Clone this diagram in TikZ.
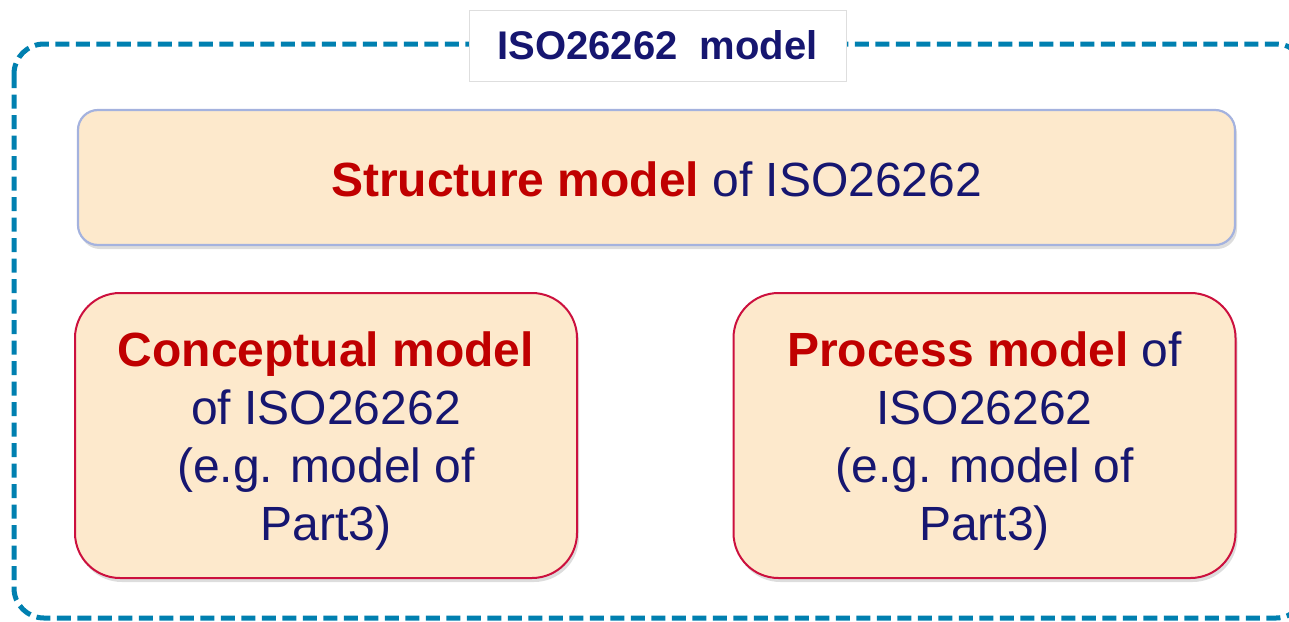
\documentclass[tikz,border=0pt]{standalone}
\usepackage{fontspec}
\setmainfont{Liberation Sans}
\usetikzlibrary{shadows}
\definecolor{frameblue}{RGB}{0,128,176}
\definecolor{boxfill}{RGB}{253,233,204}
\definecolor{keyred}{RGB}{192,0,0}
\definecolor{textnavy}{RGB}{22,22,112}
\definecolor{structedge}{RGB}{164,178,222}
\definecolor{partedge}{RGB}{204,16,62}
\definecolor{titleedge}{RGB}{222,222,222}
\tikzset{
  bigtext/.style={font=\fontsize{48}{58}\selectfont, text=textnavy, align=center, inner sep=0pt},
  boxshadow/.style={drop shadow={shadow xshift=2pt, shadow yshift=-4pt, opacity=0.22, fill=black!60}},
  structbox/.style={draw=structedge, line width=2.2pt, fill=boxfill,
    rounded corners=20pt, minimum width=1157pt, minimum height=135pt, inner sep=0pt, boxshadow},
  partbox/.style={draw=partedge, line width=2pt, fill=boxfill,
    rounded corners=45pt, minimum width=502pt, minimum height=285pt, inner sep=0pt, boxshadow},
  titlebox/.style={draw=titleedge, line width=1pt, fill=white, text=textnavy,
    font=\fontsize{40}{48}\bfseries\selectfont, minimum width=377pt, minimum height=71pt, inner sep=0pt},
  frameline/.style={draw=frameblue, line width=5pt, dash pattern=on 14pt off 6.5pt, rounded corners=30pt}
}
\newcommand{\key}[1]{\textcolor{keyred}{\bfseries #1}}
\begin{document}
\begin{tikzpicture}[x=1pt,y=-1pt]
  \useasboundingbox (0,0) rectangle (1289,621);
  \begin{scope}
    \clip (0,0) rectangle (1289,621);
    % outer dashed frame, its right side runs past the edge
    \draw[frameline] (14,44) rectangle (1306,618);
  \end{scope}
  \node[titlebox] (title) at (657.5,45.5) {ISO26262\ \ model};
  % boxes
  \node[structbox] (structure) at (656.5,177.5) {};
  \node[partbox] (conceptual) at (326,435.5) {};
  \node[partbox] (process) at (984.5,435.5) {};
  % box texts
  \node[bigtext] (structure-text) at ([yshift=-2pt]structure.center) {\key{Structure model} of ISO26262};
  \node[bigtext] (conceptual-text) at ([yshift=-6pt]conceptual.center) {\key{Conceptual model}\\of ISO26262\\(e.g. model of\\Part3)};
  \node[bigtext] (process-text) at ([yshift=-6pt]process.center) {\key{Process model} of\\ISO26262\\(e.g. model of\\Part3)};
\end{tikzpicture}
\end{document}
